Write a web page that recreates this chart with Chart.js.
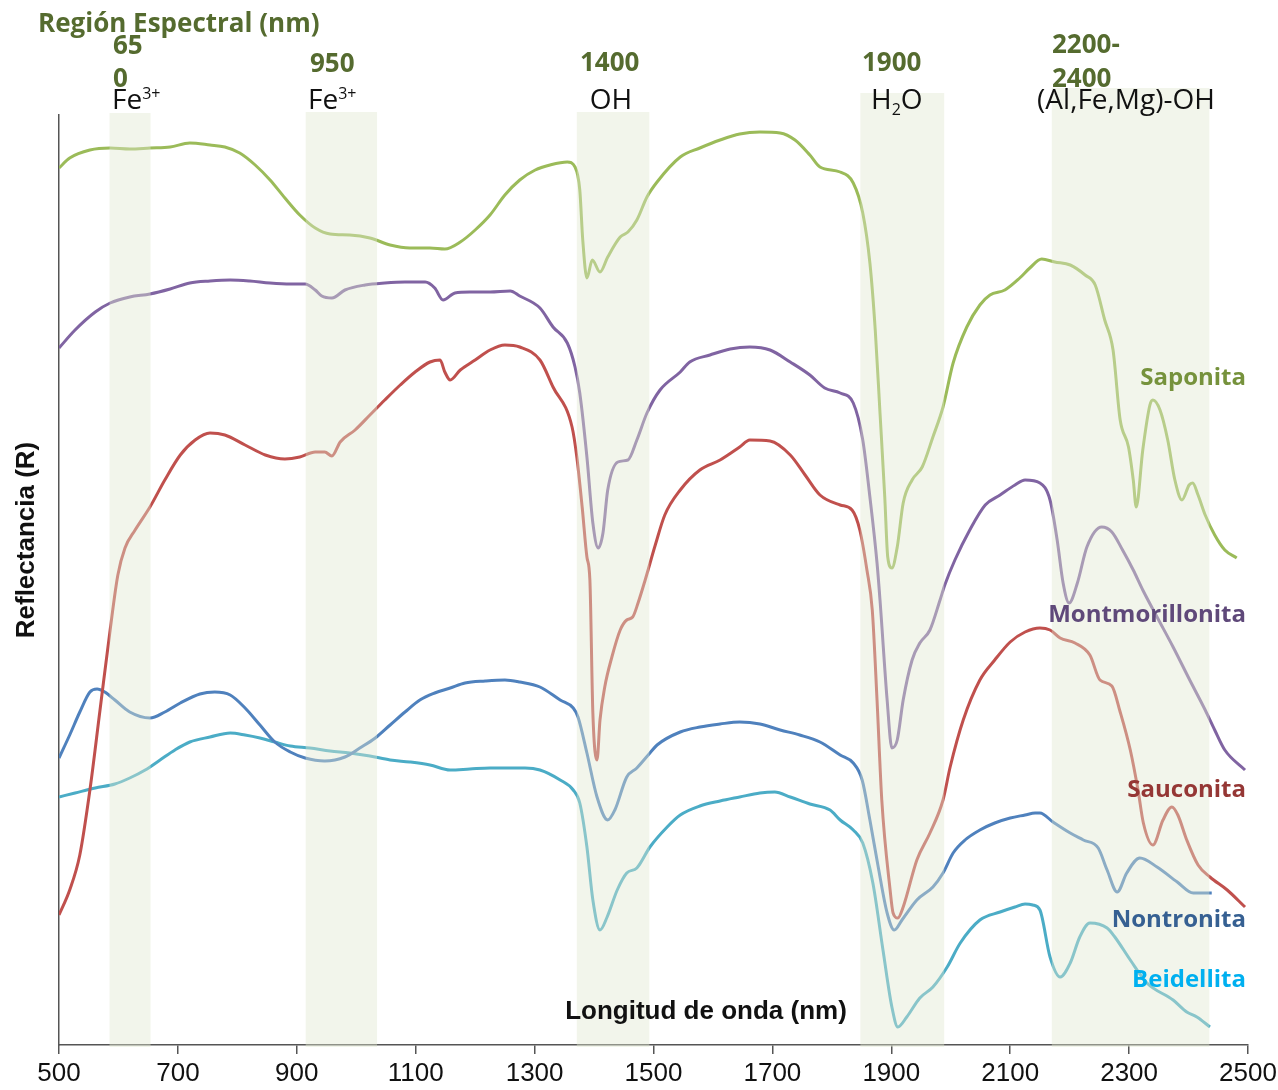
<!DOCTYPE html>
<html lang="es">
<head>
<meta charset="utf-8">
<title>Espectros de arcillas</title>
<script src="https://cdn.jsdelivr.net/npm/chart.js@4.4.1/dist/chart.umd.min.js"></script>
<style>
  html, body { margin: 0; padding: 0; background: #fff; }
  #espectros { display: block; }
</style>
</head>
<body>
<canvas id="espectros" width="1278" height="1090"></canvas>
<script>
// Longitudes de onda (nm) y reflectancia relativa
const sapWl = [500, 518, 552, 586, 619, 653, 687, 720, 754, 779, 804, 830, 855, 880, 905, 931, 956, 989, 1023, 1057, 1090, 1124, 1149, 1175, 1200, 1225, 1250, 1275, 1301, 1326, 1355, 1368, 1376, 1381, 1388, 1397, 1410, 1423, 1444, 1457, 1472, 1489, 1506, 1545, 1578, 1612, 1645, 1679, 1713, 1738, 1763, 1780, 1814, 1836, 1852, 1864, 1873, 1881, 1889, 1894, 1901, 1910, 1920, 1935, 1952, 1970, 1987, 2004, 2027, 2049, 2066, 2091, 2116, 2133, 2153, 2175, 2201, 2226, 2243, 2259, 2273, 2285, 2299, 2307, 2312, 2323, 2335, 2340, 2352, 2365, 2377, 2389, 2401, 2407, 2416, 2428, 2444, 2461, 2481];
const sapR = [87.7, 88.7, 89.5, 89.7, 89.6, 89.7, 89.8, 90.2, 90.0, 89.8, 89.2, 88.0, 86.5, 84.7, 83.0, 81.7, 81.1, 81.0, 80.7, 80.0, 79.7, 79.7, 79.6, 80.3, 81.5, 83.0, 85.0, 86.5, 87.5, 88.0, 88.3, 87.8, 85.5, 80.5, 76.7, 78.5, 77.3, 78.8, 80.8, 81.3, 82.5, 84.8, 86.3, 88.8, 89.7, 90.5, 91.1, 91.3, 91.2, 90.5, 89.0, 87.8, 87.3, 86.2, 83.2, 78.2, 71.5, 63.2, 54.8, 48.8, 47.7, 49.8, 54.2, 56.5, 57.8, 60.8, 63.8, 68.2, 71.8, 74.0, 75.0, 75.5, 76.7, 77.7, 78.6, 78.3, 78.0, 77.0, 76.0, 72.5, 69.5, 62.5, 59.8, 56.5, 53.8, 59.5, 64.0, 64.5, 63.5, 60.5, 56.5, 54.5, 56.0, 56.2, 55.0, 53.0, 51.0, 49.5, 48.7];

const monWl = [500, 527, 561, 586, 619, 653, 687, 720, 754, 788, 821, 855, 889, 914, 931, 942, 959, 981, 1015, 1048, 1082, 1116, 1132, 1146, 1166, 1191, 1225, 1259, 1275, 1309, 1331, 1355, 1368, 1376, 1388, 1398, 1407, 1415, 1423, 1440, 1457, 1472, 1489, 1511, 1545, 1561, 1595, 1629, 1662, 1696, 1730, 1763, 1788, 1814, 1836, 1852, 1864, 1876, 1881, 1893, 1901, 1910, 1920, 1935, 1948, 1965, 1982, 1990, 2007, 2032, 2058, 2083, 2108, 2125, 2150, 2167, 2179, 2189, 2199, 2213, 2229, 2254, 2271, 2289, 2307, 2323, 2347, 2374, 2402, 2428, 2444, 2461, 2495];
const monR = [69.7, 71.5, 73.3, 74.2, 74.8, 75.1, 75.6, 76.2, 76.4, 76.5, 76.4, 76.2, 76.1, 76.1, 75.5, 74.9, 74.7, 75.5, 76.0, 76.2, 76.3, 76.3, 75.7, 74.5, 75.2, 75.3, 75.3, 75.4, 74.9, 73.7, 71.8, 70.2, 67.8, 65.2, 58.8, 52.2, 49.7, 51.2, 55.5, 58.3, 58.5, 60.5, 63.2, 65.5, 67.3, 68.3, 69.0, 69.6, 69.8, 69.5, 68.3, 67.0, 65.7, 65.2, 64.2, 60.5, 54.8, 48.2, 44.5, 34.5, 29.7, 30.5, 34.5, 38.5, 40.2, 41.5, 44.5, 46.0, 48.5, 51.5, 54.0, 55.0, 56.0, 56.5, 56.2, 54.5, 50.5, 46.2, 44.2, 46.2, 49.8, 51.8, 51.3, 49.5, 47.5, 45.5, 42.8, 39.8, 36.5, 33.5, 31.5, 29.5, 27.5];

const sauWl = [500, 518, 535, 552, 569, 586, 599, 611, 628, 653, 678, 704, 729, 754, 779, 813, 847, 880, 905, 931, 947, 959, 973, 998, 1023, 1048, 1074, 1099, 1124, 1141, 1149, 1158, 1175, 1200, 1225, 1250, 1275, 1309, 1331, 1363, 1371, 1380, 1388, 1393, 1398, 1405, 1410, 1418, 1430, 1444, 1455, 1465, 1474, 1486, 1503, 1519, 1545, 1578, 1612, 1645, 1662, 1696, 1730, 1755, 1780, 1814, 1834, 1847, 1859, 1868, 1876, 1884, 1898, 1903, 1911, 1920, 1943, 1965, 1987, 1999, 2021, 2049, 2074, 2100, 2125, 2150, 2167, 2184, 2209, 2234, 2251, 2271, 2285, 2302, 2315, 2324, 2340, 2357, 2372, 2382, 2397, 2416, 2436, 2465, 2495];
const sauR = [13.0, 15.5, 19.0, 25.5, 33.5, 41.5, 47.0, 49.7, 51.5, 53.8, 56.5, 59.0, 60.5, 61.2, 61.0, 60.0, 59.0, 58.6, 58.8, 59.3, 59.3, 58.9, 60.3, 61.5, 63.0, 64.5, 66.0, 67.3, 68.3, 68.5, 67.3, 66.5, 67.5, 68.5, 69.5, 70.0, 69.8, 68.5, 65.8, 61.8, 58.8, 53.8, 48.8, 46.5, 33.2, 28.5, 32.5, 35.8, 38.8, 41.5, 42.5, 42.8, 44.2, 46.5, 50.0, 53.0, 55.5, 57.5, 58.5, 59.8, 60.5, 60.4, 59.0, 57.0, 55.0, 54.0, 53.5, 51.5, 47.5, 43.5, 34.5, 24.5, 15.5, 13.2, 12.7, 13.8, 18.5, 21.2, 24.5, 27.8, 32.5, 36.5, 38.5, 40.3, 41.3, 41.7, 41.5, 40.7, 40.2, 39.0, 36.5, 35.9, 33.3, 29.5, 25.5, 22.2, 20.0, 22.5, 23.8, 23.0, 20.5, 18.0, 16.8, 15.5, 13.8];

const nonWl = [500, 518, 535, 552, 564, 577, 594, 619, 653, 678, 704, 737, 762, 788, 813, 838, 863, 889, 914, 947, 981, 1006, 1032, 1057, 1082, 1107, 1132, 1158, 1183, 1217, 1250, 1275, 1309, 1343, 1365, 1373, 1388, 1405, 1423, 1435, 1455, 1472, 1494, 1506, 1545, 1578, 1612, 1645, 1679, 1713, 1746, 1780, 1814, 1836, 1851, 1864, 1878, 1893, 1905, 1918, 1943, 1970, 1987, 2004, 2024, 2049, 2074, 2100, 2125, 2142, 2150, 2172, 2201, 2223, 2248, 2263, 2280, 2296, 2318, 2347, 2381, 2408, 2439];
const nonR = [28.7, 31.0, 33.3, 35.3, 35.6, 35.3, 34.5, 33.3, 32.7, 33.3, 34.2, 35.1, 35.3, 35.0, 33.7, 32.0, 30.3, 29.3, 28.7, 28.4, 28.8, 29.7, 30.7, 32.0, 33.3, 34.5, 35.2, 35.7, 36.2, 36.4, 36.5, 36.3, 35.8, 34.5, 33.7, 32.8, 29.2, 24.8, 22.5, 23.5, 26.8, 27.7, 29.2, 30.0, 31.3, 31.8, 32.1, 32.3, 32.1, 31.5, 31.0, 30.3, 29.0, 28.2, 26.5, 22.5, 17.8, 13.2, 11.5, 12.5, 14.5, 15.8, 17.2, 19.2, 20.5, 21.5, 22.2, 22.7, 23.0, 23.2, 23.2, 22.3, 21.2, 20.5, 19.7, 17.5, 15.3, 17.2, 18.7, 17.8, 16.3, 15.2, 15.2];

const beiWl = [500, 527, 561, 594, 619, 645, 670, 695, 720, 754, 788, 813, 838, 863, 889, 922, 956, 989, 1023, 1057, 1090, 1124, 1158, 1191, 1225, 1259, 1284, 1309, 1343, 1365, 1376, 1388, 1398, 1410, 1422, 1439, 1455, 1472, 1494, 1523, 1545, 1578, 1612, 1645, 1679, 1704, 1730, 1763, 1797, 1814, 1836, 1852, 1869, 1886, 1901, 1911, 1926, 1948, 1970, 1994, 2016, 2049, 2083, 2108, 2125, 2138, 2150, 2167, 2184, 2201, 2217, 2234, 2263, 2276, 2302, 2330, 2374, 2397, 2414, 2436];
const beiR = [24.8, 25.2, 25.7, 26.1, 26.7, 27.5, 28.5, 29.5, 30.3, 30.8, 31.2, 31.0, 30.7, 30.3, 29.9, 29.7, 29.4, 29.2, 28.9, 28.5, 28.3, 28.0, 27.5, 27.6, 27.7, 27.7, 27.7, 27.5, 26.5, 25.5, 24.2, 19.8, 14.5, 11.5, 12.8, 15.5, 17.2, 17.7, 19.8, 21.8, 23.0, 23.9, 24.4, 24.8, 25.2, 25.3, 24.8, 24.1, 23.5, 22.5, 21.5, 20.2, 16.2, 9.5, 3.8, 1.8, 2.8, 4.7, 5.8, 7.8, 10.2, 12.5, 13.3, 13.8, 14.1, 14.0, 13.5, 8.8, 6.8, 8.2, 10.8, 12.2, 11.7, 10.8, 8.5, 6.2, 4.5, 3.3, 2.8, 1.8];

// Regiones espectrales sombreadas (nm) y altura superior
const bandStart = [585, 915, 1371, 1848, 2170];
const bandEnd = [654, 1035, 1493, 1989, 2435];
const bandTop = [93.2, 93.3, 93.3, 95.2, 95.7];

const xTicks = [500, 700, 900, 1100, 1300, 1500, 1700, 1900, 2100, 2300, 2500];

function toPoints(wl, r) {
    return wl.map((w, i) => ({ x: w, y: r[i] }));
}

const series = [
    { label: 'Saponita', wl: sapWl, r: sapR, color: '#9bbb59' },
    { label: 'Montmorillonita', wl: monWl, r: monR, color: '#8064a2' },
    { label: 'Sauconita', wl: sauWl, r: sauR, color: '#c0504d' },
    { label: 'Nontronita', wl: nonWl, r: nonR, color: '#4f81bd' },
    { label: 'Beidellita', wl: beiWl, r: beiR, color: '#4bacc6' }
];

const olive = '#556b2f';
const sans = '"Open Sans"';

function txt(ctx, s, x, y, font, color, align) {
    ctx.font = font;
    ctx.fillStyle = color;
    ctx.textAlign = align || 'left';
    ctx.textBaseline = 'middle';
    ctx.fillText(s, x, y);
}

// Fe3+ / H2O con super y subíndices
function formula(ctx, parts, x, y, color) {
    ctx.fillStyle = color;
    ctx.textBaseline = 'middle';
    ctx.textAlign = 'left';
    let cx = x;
    parts.forEach(p => {
        ctx.font = p.small ? '400 16px ' + sans : '400 28px ' + sans;
        ctx.fillText(p.t, cx, y + (p.dy || 0));
        cx += ctx.measureText(p.t).width;
    });
}

// Bandas dibujadas encima de las curvas (semitransparentes) y textos
const bandsAndText = {
    id: 'bandsAndText',
    afterDatasetsDraw(chart) {
        const { ctx, scales: { x, y }, chartArea } = chart;
        ctx.save();
        ctx.fillStyle = 'rgba(225, 232, 208, 0.42)';
        for (let i = 0; i < bandStart.length; i++) {
            const x0 = x.getPixelForValue(bandStart[i]);
            const x1 = x.getPixelForValue(bandEnd[i]);
            const y0 = y.getPixelForValue(bandTop[i]);
            ctx.fillRect(x0, y0, x1 - x0, chartArea.bottom + 2 - y0);
        }
        ctx.restore();
    },
    afterDraw(chart) {
        const { ctx } = chart;
        ctx.save();
        // encabezado
        txt(ctx, 'Región Espectral (nm)', 38, 25, '700 26px ' + sans, olive);
        const num = '700 26px ' + sans;
        txt(ctx, '65', 113, 47, num, olive);
        txt(ctx, '0', 113, 80, num, olive);
        txt(ctx, '950', 310, 65, num, olive);
        txt(ctx, '1400', 580, 64, num, olive);
        txt(ctx, '1900', 862, 64, num, olive);
        txt(ctx, '2200-', 1052, 46, num, olive);
        txt(ctx, '2400', 1052, 80, num, olive);

        formula(ctx, [{ t: 'Fe' }, { t: '3+', small: true, dy: -7 }], 112, 101, '#111');
        formula(ctx, [{ t: 'Fe' }, { t: '3+', small: true, dy: -7 }], 308, 101, '#111');
        txt(ctx, 'OH', 611, 101, '400 28px ' + sans, '#111', 'center');
        formula(ctx, [{ t: 'H' }, { t: '2', small: true, dy: 9 }, { t: 'O' }], 871, 101, '#111');
        txt(ctx, '(Al,Fe,Mg)-OH', 1126, 101, '400 28px ' + sans, '#111', 'center');

        // nombres de los minerales
        const lab = '700 24px ' + sans;
        txt(ctx, 'Saponita', 1246, 378, lab, '#76923c', 'right');
        txt(ctx, 'Montmorillonita', 1246, 615, lab, '#5f497a', 'right');
        txt(ctx, 'Sauconita', 1246, 790, lab, '#953735', 'right');
        txt(ctx, 'Nontronita', 1246, 920, lab, '#366092', 'right');
        txt(ctx, 'Beidellita', 1246, 980, lab, '#00b0f0', 'right');

        // títulos de ejes
        txt(ctx, 'Longitud de onda (nm)', 706, 1012, 'bold 26px "Liberation Sans"', '#111', 'center');
        ctx.translate(27, 540);
        ctx.rotate(-Math.PI / 2);
        txt(ctx, 'Reflectancia (R)', 0, 0, 'bold 26px "Liberation Sans"', '#111', 'center');
        ctx.restore();
    }
};

const ctx = document.getElementById('espectros').getContext('2d');
new Chart(ctx, {
    type: 'line',
    data: {
        datasets: series.map(s => ({
            label: s.label,
            data: toPoints(s.wl, s.r),
            borderColor: s.color,
            borderWidth: 3,
            pointRadius: 0,
            fill: false,
            cubicInterpolationMode: 'monotone'
        }))
    },
    options: {
        responsive: false,
        animation: false,
        layout: { padding: { top: 115, right: 30, left: 0, bottom: 0 } },
        plugins: {
            legend: { display: false },
            tooltip: { enabled: false }
        },
        scales: {
            x: {
                type: 'linear',
                min: 500,
                max: 2500,
                afterBuildTicks: s => { s.ticks = xTicks.map(v => ({ value: v })); },
                afterFit: s => {
                    s.height = 45;
                    s.paddingLeft = 0;
                    s.paddingRight = 0;
                },
                ticks: {
                    font: { family: 'Liberation Sans', size: 26 },
                    color: '#111',
                    padding: 4,
                    maxRotation: 0,
                    autoSkip: false,
                    callback: v => String(v)
                },
                grid: { drawOnChartArea: false, tickLength: 9, color: '#555', lineWidth: 1.5 },
                border: { color: '#555', width: 1.5 }
            },
            y: {
                min: 0,
                max: 93,
                afterFit: s => { s.width = 59; },
                ticks: { display: false },
                grid: { display: false },
                border: { color: '#555', width: 1.5 }
            }
        }
    },
    plugins: [bandsAndText]
});
</script>
</body>
</html>
